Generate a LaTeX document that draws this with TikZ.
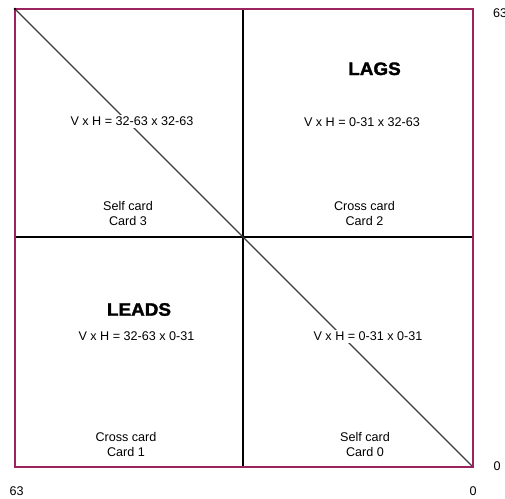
\documentclass[tikz,border=0pt]{standalone}
\usepackage{fontspec}
\setmainfont{Liberation Sans}
\newfontfamily\heavyfont[FakeBold=1.6]{Liberation Sans Bold}
\definecolor{framecol}{RGB}{155,35,95}
\definecolor{diagcol}{RGB}{60,60,60}
\begin{document}
\begin{tikzpicture}[x=1pt,y=-1pt,
  lbl/.style={inner sep=0pt,font=\fontsize{12.6}{15.3}\selectfont},
  masked/.style={lbl,fill=white,inner xsep=1pt,inner ysep=2pt},
  two/.style={lbl,align=center},
  big/.style={inner sep=0pt,font=\fontsize{18}{20}\heavyfont,xscale=1.05},
  frameline/.style={draw=framecol,line width=1.8pt},
  divline/.style={draw=black,line width=1.5pt},
  diagline/.style={draw=diagcol,line width=1.1pt}]
\useasboundingbox (0,0) rectangle (505,498);
\fill[white] (0,0) rectangle (505,498);
% corners and midpoints
\coordinate (tl) at (15,9);
\coordinate (tr) at (473,9);
\coordinate (br) at (473,467);
\coordinate (bl) at (15,467);
\coordinate (tm) at (243,9);
\coordinate (bm) at (243,467);
\coordinate (lm) at (15,237);
\coordinate (rm) at (473,237);
% dividing lines
\draw[divline] (tm) -- (bm);
\draw[divline] (lm) -- (rm);
% diagonal
\draw[diagline] (tl) -- (br);
% frame
\draw[frameline] (tl) -- (tr) -- (br) -- (bl) -- cycle;
\fill[black] (tl) circle (1.3);
% labels
\node[big,anchor=base] (lags) at (374.5,75) {LAGS};
\node[big,anchor=base] (leads) at (139,315.7) {LEADS};
\node[masked,anchor=base] (q3) at (132,125.7) {V x H = 32-63 x 32-63};
\node[lbl,anchor=base] (q2) at (362,126) {V x H = 0-31 x 32-63};
\node[lbl,anchor=base] (q1) at (136.5,340.3) {V x H = 32-63 x 0-31};
\node[masked,anchor=base] (q0) at (368,340.8) {V x H = 0-31 x 0-31};
\node[two] (c3) at (128,213.8) {Self card\\Card 3};
\node[two] (c2) at (364.5,213.8) {Cross card\\Card 2};
\node[two] (c1) at (126,444.6) {Cross card\\Card 1};
\node[two] (c0) at (365,444.6) {Self card\\Card 0};
% axis numbers
\node[lbl,anchor=base west] (n63a) at (493,17.5) {63};
\node[lbl,anchor=base] (n0a) at (497,470.7) {0};
\node[lbl,anchor=base] (n0b) at (473,495) {0};
\node[lbl,anchor=base] (n63b) at (16.7,495) {63};
\end{tikzpicture}
\end{document}
